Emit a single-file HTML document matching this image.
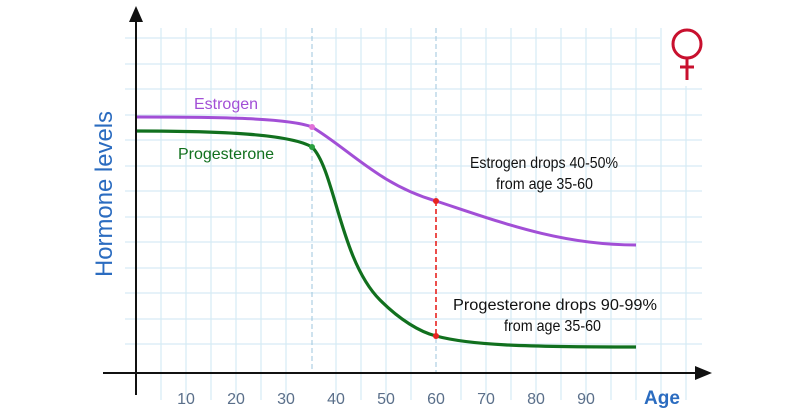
<!DOCTYPE html><html><head><style>body{margin:0;background:#fff}svg{display:block}</style></head><body>
<svg width="800" height="420" xmlns="http://www.w3.org/2000/svg" font-family="Liberation Sans, sans-serif">
<g stroke="#d6ebf5" stroke-width="1.2">
<path d="M161 28V400M186 28V400M211 28V400M236 28V400M261 28V400M286 28V400M336 28V400M361 28V400M386 28V400M411 28V400M461 28V400M486 28V400M511 28V400M536 28V400M561 28V400M586 28V400M611 28V400M636 28V400M661 28V400M686 86V400"/>
<path d="M125 38H660M125 64H660M125 89H702M125 115H702M125 140H702M125 166H702M125 191H702M125 217H702M125 242H702M125 268H702M125 293H702M125 319H702M125 344H702"/>
</g>
<line x1="312" y1="28" x2="312" y2="373" stroke="#9cc6dd" stroke-width="1" stroke-dasharray="5,3"/>
<line x1="436" y1="28" x2="436" y2="200" stroke="#9cc6dd" stroke-width="1" stroke-dasharray="5,3"/>
<line x1="436" y1="338" x2="436" y2="373" stroke="#9cc6dd" stroke-width="1" stroke-dasharray="5,3"/>
<line x1="436" y1="201" x2="436" y2="336" stroke="#e8231f" stroke-width="1.6" stroke-dasharray="5,3"/>
<path d="M136 117C220 117 290 118 312 127C350 150 380 185 436 201C500 222 560 245 636 245" fill="none" stroke="#a24fd6" stroke-width="3"/>
<path d="M136 131C220 131 290 134 312 147C335 170 340 260 380 300C400 320 420 332 436 336C470 345 520 347 636 347" fill="none" stroke="#11701e" stroke-width="3.2"/>
<circle cx="312" cy="127" r="3" fill="#e070d8"/>
<circle cx="312" cy="147" r="3" fill="#2aa040"/>
<circle cx="436" cy="201" r="3" fill="#e8231f"/>
<circle cx="436" cy="336" r="3" fill="#e8231f"/>
<path d="M136 12V395" stroke="#111" stroke-width="2"/>
<path d="M129 22L136 6L143 22Z" fill="#111"/>
<path d="M103 373H700" stroke="#111" stroke-width="2"/>
<path d="M695 366L712 373L695 380Z" fill="#111"/>
<g fill="#5a6f8a" font-size="16" text-anchor="middle">
<text x="186" y="404">10</text><text x="236" y="404">20</text><text x="286" y="404">30</text><text x="336" y="404">40</text><text x="386" y="404">50</text><text x="436" y="404">60</text><text x="486" y="404">70</text><text x="536" y="404">80</text><text x="586" y="404">90</text>
</g>
<text x="662" y="404" fill="#2b6cc0" font-size="19" font-weight="bold" text-anchor="middle">Age</text>
<text transform="translate(112 194) rotate(-90)" fill="#2b6cc0" font-size="24" text-anchor="middle" textLength="166" lengthAdjust="spacingAndGlyphs">Hormone levels</text>
<text x="226" y="109" fill="#a24fd6" font-size="16" text-anchor="middle">Estrogen</text>
<text x="226" y="159" fill="#11701e" font-size="16" text-anchor="middle">Progesterone</text>
<g fill="#111" font-size="15.5">
<text x="470" y="168" textLength="148" lengthAdjust="spacingAndGlyphs">Estrogen drops 40-50%</text><text x="496" y="189" textLength="97" lengthAdjust="spacingAndGlyphs">from age 35-60</text>
<text x="453" y="310" textLength="204" lengthAdjust="spacingAndGlyphs">Progesterone drops 90-99%</text><text x="504" y="331" textLength="97" lengthAdjust="spacingAndGlyphs">from age 35-60</text>
</g>
<g stroke="#c8102e" stroke-width="3" fill="none"><circle cx="687" cy="44" r="14"/><path d="M687 58V80M680 67H694"/></g>
</svg></body></html>
